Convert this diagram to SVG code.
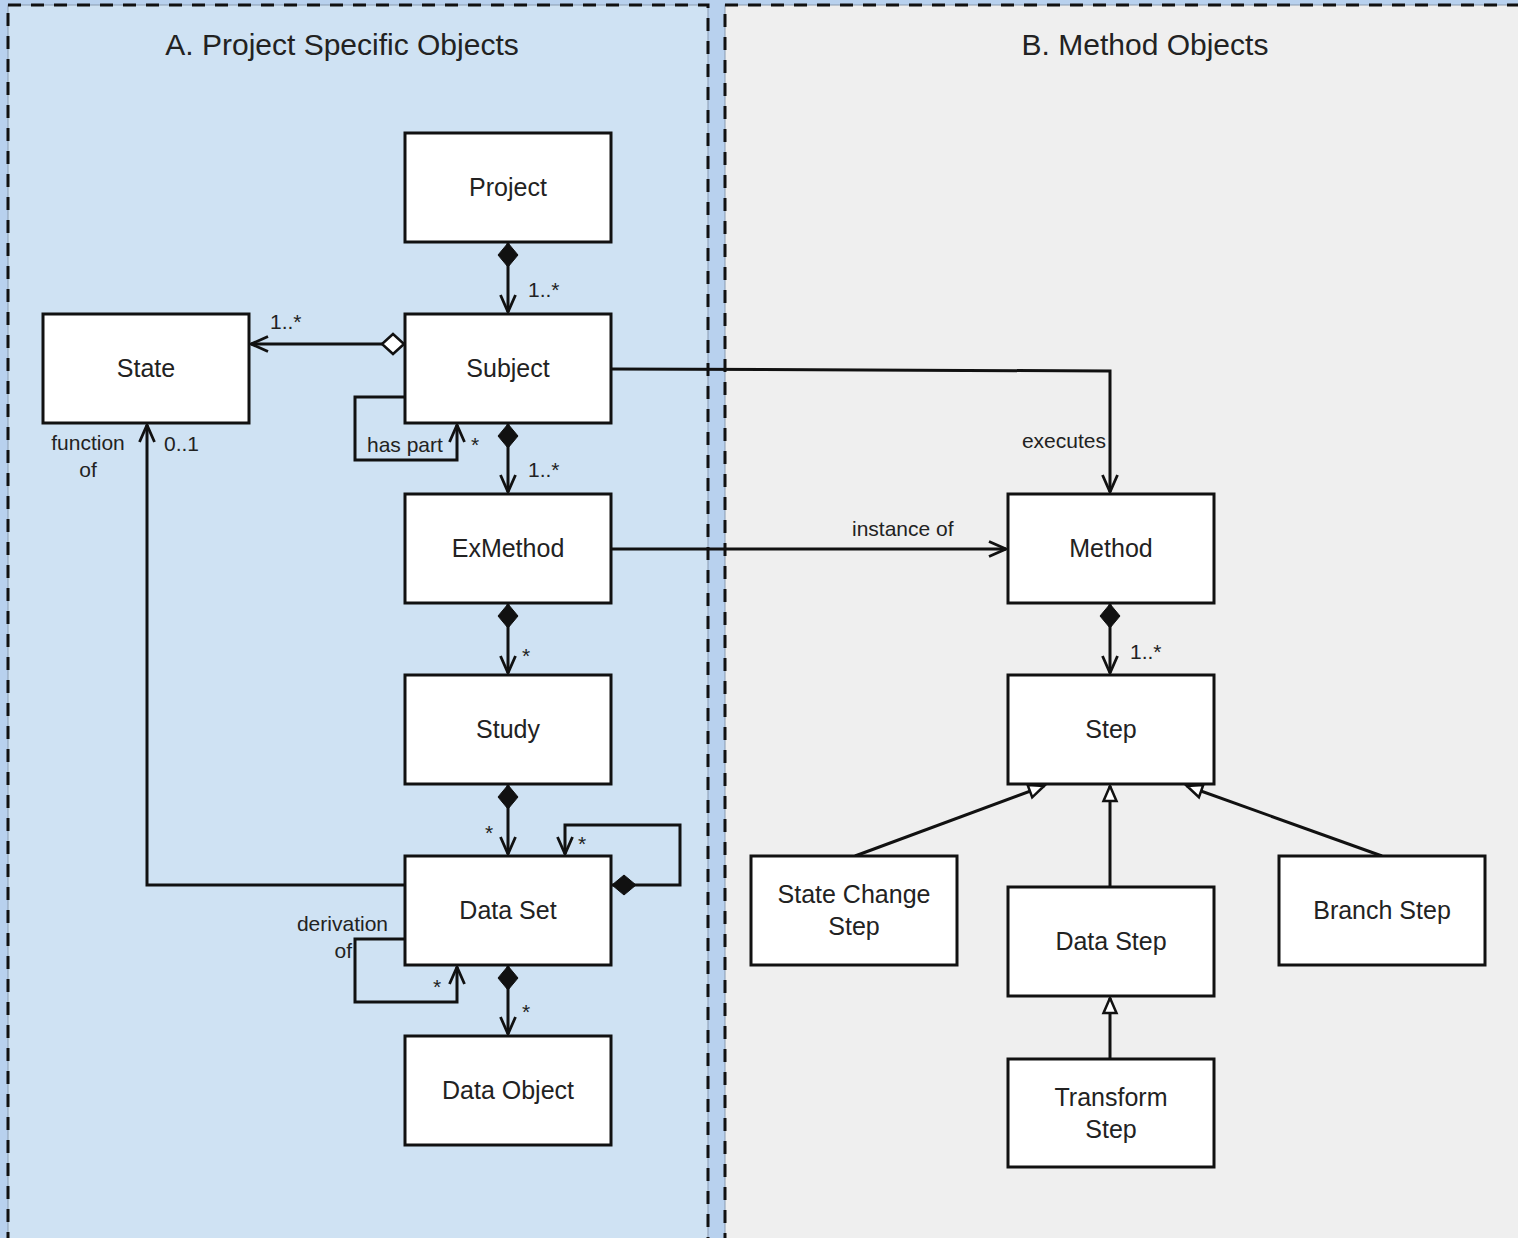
<svg xmlns="http://www.w3.org/2000/svg" width="1518" height="1238" viewBox="0 0 1518 1238">
  <style>
    .node rect { fill: #ffffff; stroke: #111111; stroke-width: 3; }
    .node text { font-family: "Liberation Sans", Arial, sans-serif; font-size: 25px; fill: #222222; text-anchor: middle; }
    .title { font-family: "Liberation Sans", Arial, sans-serif; font-size: 30px; fill: #222222; text-anchor: middle; }
    .lbl { font-family: "Liberation Sans", Arial, sans-serif; font-size: 21px; fill: #222222; }
    .edge { fill: none; stroke: #111111; stroke-width: 3; }
    .panel-edge { fill: none; stroke: #111111; stroke-width: 3; stroke-dasharray: 13 10; }
    .panel-hair { fill: none; stroke: #8a9bb0; stroke-width: 1; }
  </style>
  <defs>
    <marker id="arrow" markerUnits="userSpaceOnUse" markerWidth="24" markerHeight="24" viewBox="-20 -10 24 20" refX="0" refY="0" orient="auto">
      <path d="M -17 -7.5 L 0 0 L -17 7.5" fill="none" stroke="#111111" stroke-width="2.8"/>
    </marker>
    <marker id="diamond" markerUnits="userSpaceOnUse" markerWidth="30" markerHeight="30" viewBox="-2 -15 30 30" refX="0" refY="0" orient="auto">
      <path d="M 0 0 L 12 -10 L 24 0 L 12 10 Z" fill="#111111" stroke="#111111" stroke-width="1"/>
    </marker>
    <marker id="odiamond" markerUnits="userSpaceOnUse" markerWidth="30" markerHeight="30" viewBox="-2 -15 30 30" refX="0" refY="0" orient="auto">
      <path d="M 0 0 L 11 -10 L 22 0 L 11 10 Z" fill="#ffffff" stroke="#111111" stroke-width="2.5"/>
    </marker>
    <marker id="tri" markerUnits="userSpaceOnUse" markerWidth="24" markerHeight="24" viewBox="-20 -10 24 20" refX="0" refY="0" orient="auto">
      <path d="M 0 0 L -15 -6.5 L -15 6.5 Z" fill="#ffffff" stroke="#111111" stroke-width="2.5"/>
    </marker>
  </defs>

  <!-- page background and the two panels -->
  <rect x="0" y="0" width="1518" height="1238" fill="#b8d1ee"/>
  <rect x="8" y="5" width="700" height="1300" fill="#cfe2f3"/>
  <rect x="725" y="5" width="850" height="1300" fill="#efefef"/>
  <rect class="panel-hair" x="8" y="5" width="700" height="1300"/>
  <rect class="panel-hair" x="725" y="5" width="850" height="1300"/>
  <rect class="panel-edge" x="8" y="5" width="700" height="1300"/>
  <rect class="panel-edge" x="725" y="5" width="850" height="1300"/>

  <text class="title" x="342" y="55">A. Project Specific Objects</text>
  <text class="title" x="1145" y="55">B. Method Objects</text>

  <!-- connectors -->
  <g id="connectors">
    <path class="edge" d="M 508 243 L 508 312" marker-start="url(#diamond)" marker-end="url(#arrow)"/>
    <path class="edge" d="M 404 344 L 251 344" marker-start="url(#odiamond)" marker-end="url(#arrow)"/>
    <path class="edge" d="M 405 397 L 355 397 L 355 460 L 457 460 L 457 425" marker-end="url(#arrow)"/>
    <path class="edge" d="M 508 424 L 508 492" marker-start="url(#diamond)" marker-end="url(#arrow)"/>
    <path class="edge" d="M 611 369 L 1110 371 L 1110 492" marker-end="url(#arrow)"/>
    <path class="edge" d="M 611 549 L 1006 549" marker-end="url(#arrow)"/>
    <path class="edge" d="M 508 604 L 508 673" marker-start="url(#diamond)" marker-end="url(#arrow)"/>
    <path class="edge" d="M 508 785 L 508 854" marker-start="url(#diamond)" marker-end="url(#arrow)"/>
    <path class="edge" d="M 612 885 L 680 885 L 680 825 L 565 825 L 565 854" marker-start="url(#diamond)" marker-end="url(#arrow)"/>
    <path class="edge" d="M 405 885 L 147 885 L 147 425" marker-end="url(#arrow)"/>
    <path class="edge" d="M 405 939 L 355 939 L 355 1002 L 457 1002 L 457 967" marker-end="url(#arrow)"/>
    <path class="edge" d="M 508 966 L 508 1034" marker-start="url(#diamond)" marker-end="url(#arrow)"/>
    <path class="edge" d="M 1110 604 L 1110 673" marker-start="url(#diamond)" marker-end="url(#arrow)"/>
    <path class="edge" d="M 855 856 L 1044 786" marker-end="url(#tri)"/>
    <path class="edge" d="M 1110 887 L 1110 786" marker-end="url(#tri)"/>
    <path class="edge" d="M 1382 856 L 1187 786" marker-end="url(#tri)"/>
    <path class="edge" d="M 1110 1059 L 1110 998" marker-end="url(#tri)"/>

    <text class="lbl" x="528" y="297">1..*</text>
    <text class="lbl" x="270" y="329">1..*</text>
    <text class="lbl" x="367" y="452">has part</text>
    <text class="lbl" x="471" y="452">*</text>
    <text class="lbl" x="528" y="477">1..*</text>
    <text class="lbl" x="1106" y="448" text-anchor="end">executes</text>
    <text class="lbl" x="852" y="536">instance of</text>
    <text class="lbl" x="522" y="663">*</text>
    <text class="lbl" x="485" y="840">*</text>
    <text class="lbl" x="578" y="851">*</text>
    <text class="lbl" x="88" y="450" text-anchor="middle">function</text>
    <text class="lbl" x="88" y="477" text-anchor="middle">of</text>
    <text class="lbl" x="164" y="451">0..1</text>
    <text class="lbl" x="388" y="931" text-anchor="end">derivation</text>
    <text class="lbl" x="352" y="958" text-anchor="end">of</text>
    <text class="lbl" x="433" y="994">*</text>
    <text class="lbl" x="522" y="1019">*</text>
    <text class="lbl" x="1130" y="659">1..*</text>
  </g>

  <!-- nodes -->
  <g id="project" class="node"><rect x="405" y="133" width="206" height="109"/><text x="508" y="196">Project</text></g>
  <g id="subject" class="node"><rect x="405" y="314" width="206" height="109"/><text x="508" y="377">Subject</text></g>
  <g id="state" class="node"><rect x="43" y="314" width="206" height="109"/><text x="146" y="377">State</text></g>
  <g id="exmethod" class="node"><rect x="405" y="494" width="206" height="109"/><text x="508" y="557">ExMethod</text></g>
  <g id="study" class="node"><rect x="405" y="675" width="206" height="109"/><text x="508" y="738">Study</text></g>
  <g id="dataset" class="node"><rect x="405" y="856" width="206" height="109"/><text x="508" y="919">Data Set</text></g>
  <g id="dataobject" class="node"><rect x="405" y="1036" width="206" height="109"/><text x="508" y="1099">Data Object</text></g>
  <g id="method" class="node"><rect x="1008" y="494" width="206" height="109"/><text x="1111" y="557">Method</text></g>
  <g id="step" class="node"><rect x="1008" y="675" width="206" height="109"/><text x="1111" y="738">Step</text></g>
  <g id="statechangestep" class="node"><rect x="751" y="856" width="206" height="109"/><text x="854" y="903">State Change</text><text x="854" y="935">Step</text></g>
  <g id="datastep" class="node"><rect x="1008" y="887" width="206" height="109"/><text x="1111" y="950">Data Step</text></g>
  <g id="branchstep" class="node"><rect x="1279" y="856" width="206" height="109"/><text x="1382" y="919">Branch Step</text></g>
  <g id="transformstep" class="node"><rect x="1008" y="1059" width="206" height="108"/><text x="1111" y="1106">Transform</text><text x="1111" y="1138">Step</text></g>
</svg>
